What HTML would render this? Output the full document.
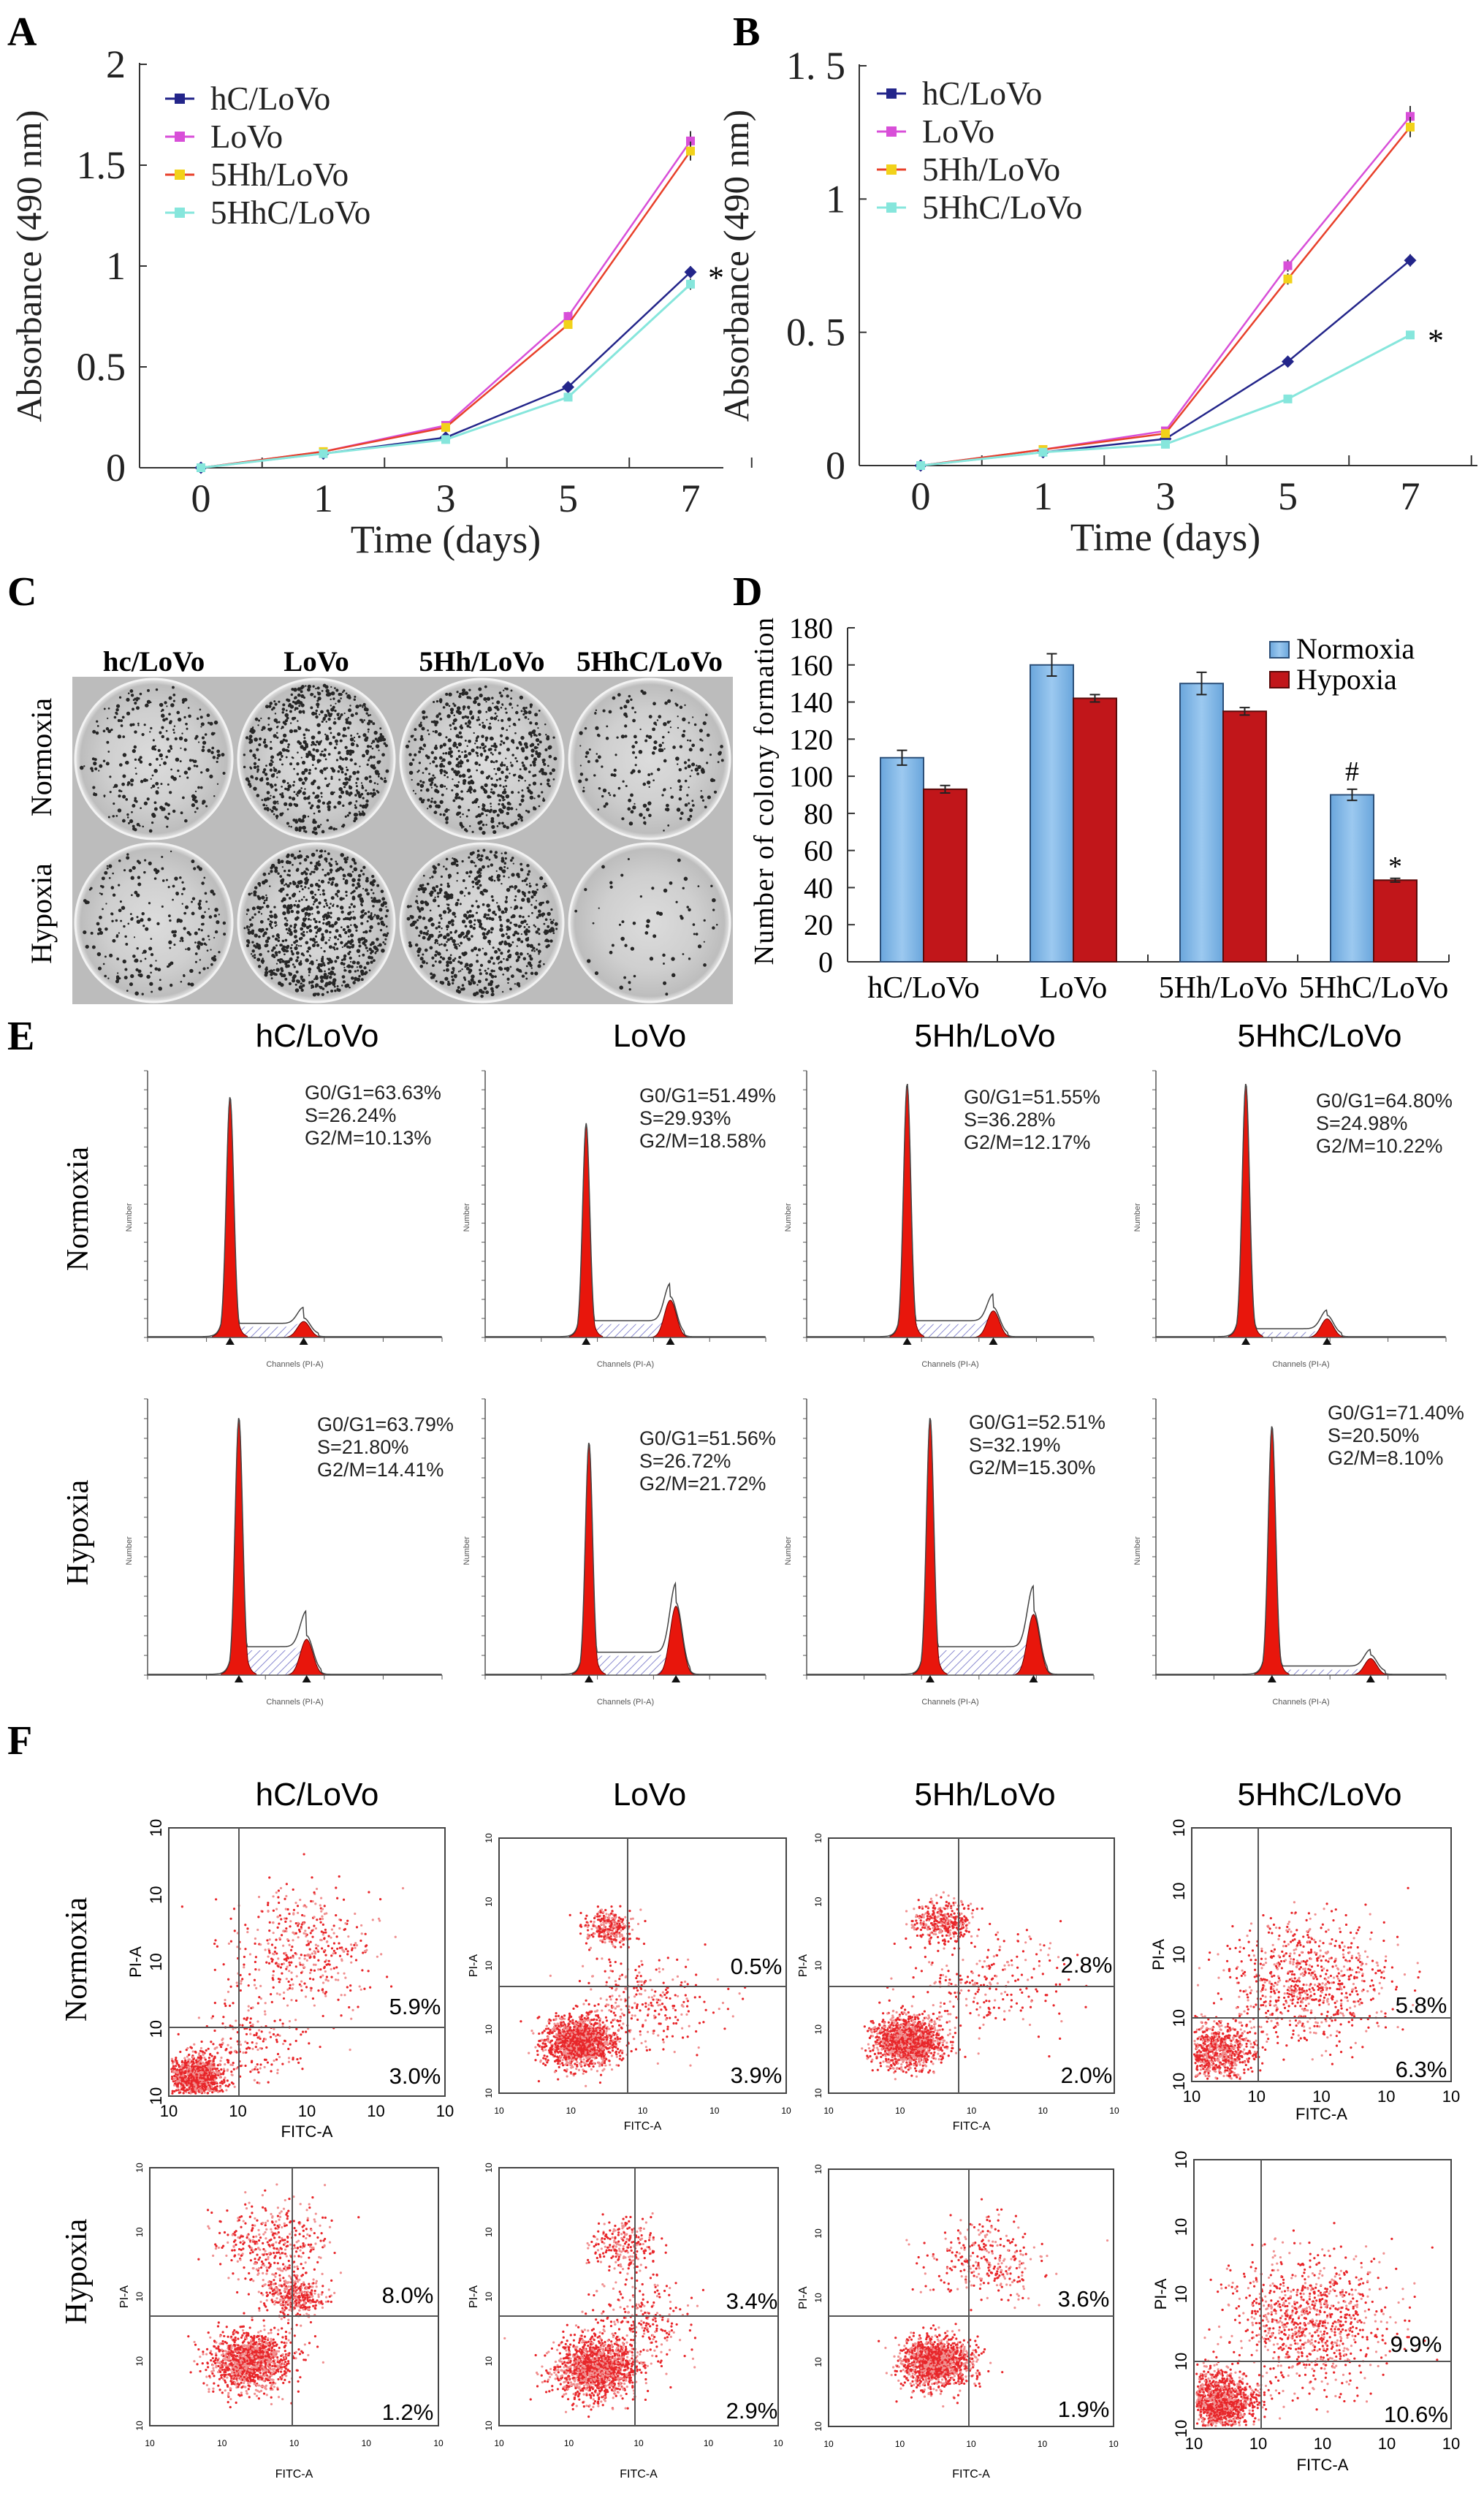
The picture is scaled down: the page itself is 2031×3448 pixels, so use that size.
<!DOCTYPE html>
<html><head><meta charset="utf-8">
<style>
html,body{margin:0;padding:0;background:#fff;}
svg{display:block;}
.serif{font-family:"Liberation Serif",serif;}
.sans{font-family:"Liberation Sans",sans-serif;}
</style></head>
<body>
<svg id="fig" width="2031" height="3448" viewBox="0 0 2031 3448" xmlns="http://www.w3.org/2000/svg">
<defs>
<linearGradient id="blueg" x1="0" x2="1" y1="0" y2="0"><stop offset="0" stop-color="#6aa6dc"/><stop offset="0.5" stop-color="#9cc9f0"/><stop offset="1" stop-color="#6aa6dc"/></linearGradient>
<pattern id="hatch" width="8" height="8" patternUnits="userSpaceOnUse" patternTransform="rotate(45)"><rect width="8" height="8" fill="#fff"/><line x1="0" y1="0" x2="0" y2="8" stroke="#8a8ad0" stroke-width="2"/></pattern>
<radialGradient id="dishg" cx="0.5" cy="0.5" r="0.5"><stop offset="0" stop-color="#dcdcdc"/><stop offset="0.6" stop-color="#cfcfcf"/><stop offset="0.93" stop-color="#bdbdbd"/><stop offset="1" stop-color="#e8e8e8"/></radialGradient>
</defs>
<g class="serif" font-weight="bold" font-size="56">
<text x="10" y="62">A</text>
<text x="1003" y="62">B</text>
<text x="10" y="828">C</text>
<text x="1003" y="828">D</text>
<text x="10" y="1436">E</text>
<text x="10" y="2400">F</text>
</g>
<g id="gA"></g>
<g id="gB"></g>
<g id="gC"></g>
<g id="gD"></g>
<g id="gE"></g>
<g id="gF"></g>
</svg>
<script>
// ---------- data ----------
const days = ["0","1","3","5","7"];
const seriesNames = ["hC/LoVo","LoVo","5Hh/LoVo","5HhC/LoVo"];
const aHC = [0,0.07,0.15,0.40,0.97];
const aLoVo = [0,0.08,0.21,0.75,1.62];
const a5Hh = [0,0.08,0.20,0.71,1.57];
const a5HhC = [0,0.07,0.14,0.35,0.91];
const bHC = [0,0.05,0.10,0.39,0.77];
const bLoVo = [0,0.06,0.13,0.75,1.31];
const b5Hh = [0,0.06,0.12,0.70,1.27];
const b5HhC = [0,0.05,0.08,0.25,0.49];
const aTicks = [0,0.5,1,1.5,2];
const aTickLabels = ["0","0.5","1","1.5","2"];
const bTicks = [0,0.5,1,1.5];
const bTickLabels = ["0","0. 5","1","1. 5"];
const dCats = ["hC/LoVo","LoVo","5Hh/LoVo","5HhC/LoVo"];
const dNormoxia = [110,160,150,90];
const dHypoxia = [93,142,135,44];
const dNormErr = [4,6,6,3];
const dHypErr = [2,2,2,1];
const dTicks = [0,20,40,60,80,100,120,140,160,180];
const eStats = [
 ["G0/G1=63.63%","S=26.24%","G2/M=10.13%"],["G0/G1=51.49%","S=29.93%","G2/M=18.58%"],
 ["G0/G1=51.55%","S=36.28%","G2/M=12.17%"],["G0/G1=64.80%","S=24.98%","G2/M=10.22%"],
 ["G0/G1=63.79%","S=21.80%","G2/M=14.41%"],["G0/G1=51.56%","S=26.72%","G2/M=21.72%"],
 ["G0/G1=52.51%","S=32.19%","G2/M=15.30%"],["G0/G1=71.40%","S=20.50%","G2/M=8.10%"]];
const eG1Pos = [0.28,0.36,0.35,0.31,0.31,0.37,0.43,0.40];
const eG1Height = [0.9,0.80,0.95,0.95,0.93,0.84,0.93,0.90];
const eG2Pos = [0.53,0.66,0.65,0.59,0.54,0.68,0.79,0.74];
const eG2Height = [0.06,0.14,0.10,0.07,0.13,0.25,0.22,0.06];
const eSLevel = [0.04,0.05,0.05,0.02,0.09,0.07,0.09,0.02];
const fUpper = ["5.9%","0.5%","2.8%","5.8%","8.0%","3.4%","3.6%","9.9%"];
const fLower = ["3.0%","3.9%","2.0%","6.3%","1.2%","2.9%","1.9%","10.6%"];
const groups = ["hC/LoVo","LoVo","5Hh/LoVo","5HhC/LoVo"];

// ---------- helpers ----------
const NS="http://www.w3.org/2000/svg";
function mk(tag, attrs, parent){const e=document.createElementNS(NS,tag);for(const k in attrs)e.setAttribute(k,attrs[k]);(parent||svg).appendChild(e);return e;}
function nm(e,n,i){
 
 
 return e;}
function txt(s,attrs,parent,n){const e=mk('text',attrs,parent);e.textContent=s;nm(e,n||'label');return e;}
const svg=document.getElementById('fig');
let seed=12345;function rnd(){seed=(seed*1103515245+12345)%2147483648;return seed/2147483648;}
function gauss(){return Math.sqrt(-2*Math.log(rnd()+1e-9))*Math.cos(2*Math.PI*rnd());}

// ---------- line charts ----------
const colors=["#23258a","#d84fd8","#e8402a","#86e6dc"];
const mfill=["#23258a","#d84fd8","#f2d21a","#86e6dc"];
function lineChart(g, x0, step, yBase, yTop, vmax, ticks, tickLabels, data, axRight, legX, legY, titleX){
 const sx=i=>x0+i*step, sy=v=>yBase-v*(yBase-yTop)/vmax;
 const axX = x0-84;
 nm(mk('line',{x1:axX,y1:yTop-2,x2:axX,y2:yBase,stroke:'#333','stroke-width':2},g),'y-axis');
 nm(mk('line',{x1:axX,y1:yBase,x2:axRight,y2:yBase,stroke:'#333','stroke-width':2},g),'x-axis');
 ticks.forEach((t,i)=>{nm(mk('line',{x1:axX,y1:sy(t),x2:axX+10,y2:sy(t),stroke:'#333','stroke-width':2},g),'y-tick');
  txt(tickLabels[i],{x:axX-19,y:sy(t)+18,'text-anchor':'end','font-size':54,class:'serif',fill:'#222'},g,'y-tick-label');});
 days.forEach((d,i)=>{nm(mk('line',{x1:sx(i)+step/2,y1:yBase,x2:sx(i)+step/2,y2:yBase-14,stroke:'#333','stroke-width':2},g),'x-tick');
  txt(d,{x:sx(i),y:yBase+60,'text-anchor':'middle','font-size':54,class:'serif',fill:'#222'},g,'x-tick-label');});
 txt('Time (days)',{x:sx(2),y:yBase+116,'text-anchor':'middle','font-size':54,class:'serif',fill:'#222'},g,'x-axis-title');
 txt('Absorbance (490 nm)',{x:0,y:0,transform:`translate(${titleX+16},${(yBase+yTop)/2}) rotate(-90)`,'text-anchor':'middle','font-size':49,class:'serif',fill:'#222'},g,'y-axis-title');
 data.forEach((s,k)=>{
  const pts=s.map((v,i)=>sx(i)+','+sy(v)).join(' ');
  nm(mk('polyline',{points:pts,fill:'none',stroke:colors[k],'stroke-width':k==3?3:2.5},g),'series-'+seriesNames[k]);
  s.forEach((v,i)=>{ if(i>=3){const er=v*0.03;nm(mk('line',{x1:sx(i),y1:sy(v+er),x2:sx(i),y2:sy(v-er),stroke:'#333','stroke-width':2},g),'error-bar');}
   nm(mk('rect',{x:sx(i)-6,y:sy(v)-6,width:12,height:12,fill:mfill[k],transform:k==0?`rotate(45 ${sx(i)} ${sy(v)})`:''},g),'point');});
 });
 seriesNames.forEach((n,k)=>{const y=legY+k*52;
  nm(mk('line',{x1:legX-20,y1:y,x2:legX+20,y2:y,stroke:colors[k],'stroke-width':3},g),'legend-line');
  nm(mk('rect',{x:legX-7,y:y-7,width:14,height:14,fill:mfill[k]},g),'legend-marker');
  txt(n,{x:legX+42,y:y+15,'font-size':45,class:'serif',fill:'#222'},g,'legend-entry');});
 const starV = data[3][4]>data[0][4]*0.8?data[0][4]:data[3][4];
 txt('*',{x:sx(4)+24,y:sy(starV)+22,'font-size':44,class:'serif'},g,'significance-star');
}
lineChart(document.getElementById('gA'),275,167.5,640,88,2,aTicks,aTickLabels,[aHC,aLoVo,a5Hh,a5HhC],990,246,135,40);
lineChart(document.getElementById('gB'),1260,167.5,637,90,1.5,bTicks,bTickLabels,[bHC,bLoVo,b5Hh,b5HhC],2022,1220,128,1008);

// ---------- colony photos ----------
(function(){
 const g=document.getElementById('gC');
 const colX=[99,322,544,775,1003], rowY=[926,1151,1374];
 const dens=[[280,650,600,210],[240,800,650,65]];
 groups.forEach((n,c)=>txt(c==0?'hc/LoVo':n,{x:(colX[c]+colX[c+1])/2,y:918,'text-anchor':'middle','font-size':39,'font-weight':'bold',class:'serif'},g,'column-header'));
 txt('Normoxia',{x:0,y:0,transform:'translate(70,1036) rotate(-90)','text-anchor':'middle','font-size':40,class:'serif'},g,'row-label');
 txt('Hypoxia',{x:0,y:0,transform:'translate(70,1250) rotate(-90)','text-anchor':'middle','font-size':40,class:'serif'},g,'row-label');
 for(let r=0;r<2;r++)for(let c=0;c<4;c++){
  const x=colX[c],y=rowY[r],w=colX[c+1]-x,h=rowY[r+1]-y;
  nm(mk('rect',{x:x,y:y,width:w,height:h,fill:'#bcbcbc'},g),'photo-cell');
  const cx=x+w/2,cy=y+h/2,rx=w/2-4,ry=h/2-3;
  nm(mk('ellipse',{cx:cx,cy:cy,rx:rx,ry:ry,fill:'url(#dishg)',stroke:'#f2f2f2','stroke-width':3},g),'petri-dish');
  for(let i=0;i<dens[r][c];i++){const a=rnd()*2*Math.PI,d=Math.sqrt(rnd())*0.93;
   nm(mk('circle',{cx:cx+Math.cos(a)*d*rx,cy:cy+Math.sin(a)*d*ry,r:1.1+rnd()*1.7,fill:'#262626'},g),'colony');}
 }
})();

// ---------- bar chart D ----------
(function(){
 const g=document.getElementById('gD');
 const y0=1316,yT=859,ax=1160,sy=v=>y0-v*(y0-yT)/180;
 const cx=[1264,1469,1674,1880],bw=59;
 nm(mk('line',{x1:ax,y1:yT,x2:ax,y2:y0,stroke:'#333','stroke-width':2},g),'y-axis');
 nm(mk('line',{x1:ax,y1:y0,x2:1983,y2:y0,stroke:'#333','stroke-width':2},g),'x-axis');
 dTicks.forEach(t=>{nm(mk('line',{x1:ax,y1:sy(t),x2:ax+10,y2:sy(t),stroke:'#333','stroke-width':2},g),'y-tick');
  txt(String(t),{x:1140,y:sy(t)+14,'text-anchor':'end','font-size':40,class:'serif'},g,'y-tick-label');});
 txt('Number of colony formation',{x:0,y:0,transform:`translate(1058,1082) rotate(-90)`,'text-anchor':'middle','font-size':38,class:'serif','letter-spacing':1.5},g,'y-axis-title');
 [1365,1571,1776,1983].forEach(x=>nm(mk('line',{x1:x,y1:y0,x2:x,y2:y0-10,stroke:'#333','stroke-width':2},g),'x-tick'));
 dCats.forEach((n,i)=>{
  nm(mk('rect',{x:cx[i]-bw,y:sy(dNormoxia[i]),width:bw,height:y0-sy(dNormoxia[i]),fill:'url(#blueg)',stroke:'#2c4f78','stroke-width':2},g),'bar-normoxia');
  nm(mk('rect',{x:cx[i],y:sy(dHypoxia[i]),width:bw,height:y0-sy(dHypoxia[i]),fill:'#c1161a',stroke:'#5a0a0a','stroke-width':2},g),'bar-hypoxia');
  [[cx[i]-bw/2,dNormoxia[i],dNormErr[i]],[cx[i]+bw/2,dHypoxia[i],dHypErr[i]]].forEach(b=>{
   nm(mk('path',{d:`M${b[0]-7},${sy(b[1]+b[2])}H${b[0]+7}M${b[0]},${sy(b[1]+b[2])}V${sy(b[1]-b[2])}M${b[0]-7},${sy(b[1]-b[2])}H${b[0]+7}`,stroke:'#222','stroke-width':2,fill:'none'},g),'error-bar');});
  txt(n,{x:cx[i],y:1365,'text-anchor':'middle','font-size':42,class:'serif'},g,'x-tick-label');
 });
 txt('#',{x:cx[3]-bw/2,y:sy(dNormoxia[3]+dNormErr[3])-12,'text-anchor':'middle','font-size':38,class:'serif'},g,'significance-hash');
 txt('*',{x:cx[3]+bw/2,y:sy(dHypoxia[3]+dHypErr[3])-4,'text-anchor':'middle','font-size':38,class:'serif'},g,'significance-star');
 nm(mk('rect',{x:1738,y:878,width:26,height:22,fill:'url(#blueg)',stroke:'#2c4f78','stroke-width':2},g),'legend-swatch-normoxia');
 txt('Normoxia',{x:1774,y:901,'font-size':40,class:'serif'},g,'legend-entry');
 nm(mk('rect',{x:1738,y:919,width:26,height:22,fill:'#c1161a',stroke:'#5a0a0a','stroke-width':2},g),'legend-swatch-hypoxia');
 txt('Hypoxia',{x:1774,y:943,'font-size':40,class:'serif'},g,'legend-entry');
})();

// ---------- histograms E ----------
(function(){
 const g=document.getElementById('gE');
 const cols=[[202,605],[664,1048],[1104,1497],[1582,1979]];
 const rows=[[1465,1830],[1914,2292]];
 const titleX=[434,889,1348,1806];
 groups.forEach((n,c)=>txt(n,{x:titleX[c],y:1432,'text-anchor':'middle','font-size':44,class:'sans'},g,'column-title'));
 txt('Normoxia',{x:0,y:0,transform:'translate(120,1654) rotate(-90)','text-anchor':'middle','font-size':42,class:'serif'},g,'row-label');
 txt('Hypoxia',{x:0,y:0,transform:'translate(120,2097) rotate(-90)','text-anchor':'middle','font-size':42,class:'serif'},g,'row-label');
 const textX=[417,875,1319,1801,434,875,1326,1817];
 const textY=[1504,1508,1510,1515,1958,1977,1955,1942];
 for(let r=0;r<2;r++)for(let c=0;c<4;c++){
  const k=r*4+c,[x0,x1]=cols[c],[yT,yB]=rows[r],W=x1-x0,H=yB-yT;
  const px=f=>x0+f*W,py=f=>yB-f*H;
  const g1=f=>eG1Height[k]*Math.exp(-Math.abs(f-eG1Pos[k])/0.012);
  const g1s=f=>eG1Height[k]*Math.exp(-Math.pow((f-eG1Pos[k])/0.018,2));
  const g2=f=>eG2Height[k]*Math.exp(-Math.pow((f-eG2Pos[k])/0.03,2));
  const sp=f=>(f>eG1Pos[k]&&f<eG2Pos[k])?eSLevel[k]:0;
  const G1=f=>Math.max(g1(f)*0.7,g1s(f));
  let dG1='M'+px(eG1Pos[k]-0.06)+','+yB, dG2='M'+px(eG2Pos[k]-0.08)+','+yB, dS='M'+px(eG1Pos[k]+0.02)+','+yB, env='M'+px(0)+','+yB;
  for(let f=eG1Pos[k]-0.06;f<=eG1Pos[k]+0.06;f+=0.002)dG1+=' L'+px(f)+','+py(G1(f));
  for(let f=eG2Pos[k]-0.08;f<=eG2Pos[k]+0.08;f+=0.004)dG2+=' L'+px(f)+','+py(g2(f));
  for(let f=eG1Pos[k]+0.02;f<=eG2Pos[k];f+=0.005)dS+=' L'+px(f)+','+py(sp(f)+g2(f)*0.3);
  for(let f=0;f<=1;f+=0.003)env+=' L'+px(f)+','+py(Math.max(G1(f),sp(f)+g2(f)+(f>eG1Pos[k]&&f<eG2Pos[k]+0.05?0.01:0))+0.003);
  nm(mk('path',{d:dS+' L'+px(eG2Pos[k])+','+yB+'Z',fill:'url(#hatch)',stroke:'none'},g),'s-phase-area');
  nm(mk('path',{d:dG1+' L'+px(eG1Pos[k]+0.06)+','+yB+'Z',fill:'#e8160c',stroke:'#600','stroke-width':1},g),'g1-peak');
  nm(mk('path',{d:dG2+' L'+px(eG2Pos[k]+0.08)+','+yB+'Z',fill:'#e8160c',stroke:'#600','stroke-width':1},g),'g2-peak');
  nm(mk('path',{d:env,fill:'none',stroke:'#444','stroke-width':1.5},g),'histogram-envelope');
  nm(mk('path',{d:`M${x0},${yT}V${yB}H${x1}`,fill:'none',stroke:'#555','stroke-width':1.5},g),'axes');
  for(let t=0;t<=5;t++){nm(mk('line',{x1:x0+t*W/5,y1:yB,x2:x0+t*W/5,y2:yB+6,stroke:'#555'},g),'x-tick');}
  for(let t=0;t<=14;t++){nm(mk('line',{x1:x0-5,y1:yB-t*H/14,x2:x0,y2:yB-t*H/14,stroke:'#555'},g),'y-tick');}
  [eG1Pos[k],eG2Pos[k]].forEach(f=>nm(mk('path',{d:`M${px(f)-6},${yB+10}L${px(f)},${yB}L${px(f)+6},${yB+10}Z`,fill:'#111'},g),'peak-marker'));
  txt('Channels (PI-A)',{x:x0+W/2,y:yB+40,'text-anchor':'middle','font-size':11,class:'sans',fill:'#555'},g,'x-axis-title');
  txt('Number',{x:0,y:0,transform:`translate(${x0-22},${yT+H*0.55}) rotate(-90)`,'text-anchor':'middle','font-size':11,class:'sans',fill:'#555'},g,'y-axis-title');
  eStats[k].forEach((s,j)=>txt(s,{x:textX[k],y:textY[k]+j*31,'font-size':27,class:'sans',fill:'#222'},g,'phase-stat'));
 }
})();

// ---------- scatter F ----------
(function(){
 const g=document.getElementById('gF');
 const boxes=[[231,2501,609,2868,327,2774],[683,2515,1076,2864,859,2718],[1134,2515,1525,2864,1312,2718],[1631,2501,1986,2848,1722,2761],
  [205,2966,600,3319,400,3169],[683,2966,1065,3319,869,3169],[1134,2968,1524,3320,1326,3169],[1634,2955,1986,3323,1726,3231]];
 const upPos=[[568,2745],[1035,2690],[1487,2688],[1945,2743],[558,3140],[1029,3148],[1483,3145],[1938,3207]];
 const loPos=[[568,2840],[1035,2839],[1487,2839],[1945,2831],[558,3300],[1029,3298],[1483,3296],[1938,3303]];
 const fitcY=[2924,2914,2914,2900,3390,3390,3390,3380];
 const titleX=[434,889,1348,1806];
 groups.forEach((n,c)=>txt(n,{x:titleX[c],y:2470,'text-anchor':'middle','font-size':44,class:'sans'},g,'column-title'));
 txt('Normoxia',{x:0,y:0,transform:'translate(118,2681) rotate(-90)','text-anchor':'middle','font-size':42,class:'serif'},g,'row-label');
 txt('Hypoxia',{x:0,y:0,transform:'translate(118,3108) rotate(-90)','text-anchor':'middle','font-size':42,class:'serif'},g,'row-label');
 const clusters=[
  [[0.1,0.93,0.05,1100],[0.48,0.45,0.13,450],[0.3,0.8,0.1,200]],
  [[0.28,0.8,0.06,1500],[0.38,0.35,0.04,300],[0.5,0.65,0.12,300]],
  [[0.28,0.8,0.06,1500],[0.4,0.33,0.05,350],[0.55,0.55,0.14,250]],
  [[0.1,0.88,0.07,800],[0.45,0.6,0.15,800]],
  [[0.35,0.75,0.07,1300],[0.5,0.5,0.05,400],[0.42,0.3,0.1,400]],
  [[0.35,0.78,0.07,1500],[0.45,0.3,0.06,250],[0.5,0.6,0.1,250]],
  [[0.38,0.75,0.06,1400],[0.55,0.35,0.1,300]],
  [[0.1,0.9,0.07,1300],[0.45,0.6,0.15,1000]]];
 boxes.forEach((b,k)=>{
  const [x0,y0,x1,y1,vx,hy]=b,W=x1-x0,H=y1-y0;
  clusters[k].forEach(cl=>{for(let i=0;i<cl[3];i++){
   const fx=cl[0]+gauss()*cl[2],fy=cl[1]+gauss()*cl[2]*0.8;
   if(fx<0.01||fx>0.99||fy<0.01||fy>0.99)continue;
   nm(mk('circle',{cx:x0+fx*W,cy:y0+fy*H,r:1.6,fill:rnd()<0.6?'#e8262a':'#f09090'},g),'event-dot');}});
  nm(mk('rect',{x:x0,y:y0,width:W,height:H,fill:'none',stroke:'#444','stroke-width':2},g),'plot-frame');
  nm(mk('line',{x1:vx,y1:y0,x2:vx,y2:y1,stroke:'#555','stroke-width':2},g),'quadrant-vline');
  nm(mk('line',{x1:x0,y1:hy,x2:x1,y2:hy,stroke:'#555','stroke-width':2},g),'quadrant-hline');
  txt(fUpper[k],{x:upPos[k][0],y:upPos[k][1]+11,'text-anchor':'middle','font-size':31,class:'sans'},g,'upper-right-percent');
  txt(fLower[k],{x:loPos[k][0],y:loPos[k][1]+11,'text-anchor':'middle','font-size':31,class:'sans'},g,'lower-right-percent');
  const big=(k==0||k==3||k==7);
  txt('FITC-A',{x:x0+W/2,y:fitcY[k],'text-anchor':'middle','font-size':big?22:16,class:'sans'},g,'x-axis-title');
  txt('PI-A',{x:0,y:0,transform:`translate(${x0-(big?38:30)},${y0+H/2}) rotate(-90)`,'text-anchor':'middle','font-size':big?22:16,class:'sans'},g,'y-axis-title');
  for(let t=0;t<=4;t++){
   txt('10',{x:x0+t*W/4,y:y1+28,'text-anchor':'middle','font-size':big?22:12,class:'sans'},g,'x-tick-label');
   txt('10',{x:0,y:0,transform:`translate(${x0-10},${y1-t*H/4}) rotate(-90)`,'text-anchor':'middle','font-size':big?22:12,class:'sans'},g,'y-tick-label');
  }
 });
})();
</script>
</body></html>
